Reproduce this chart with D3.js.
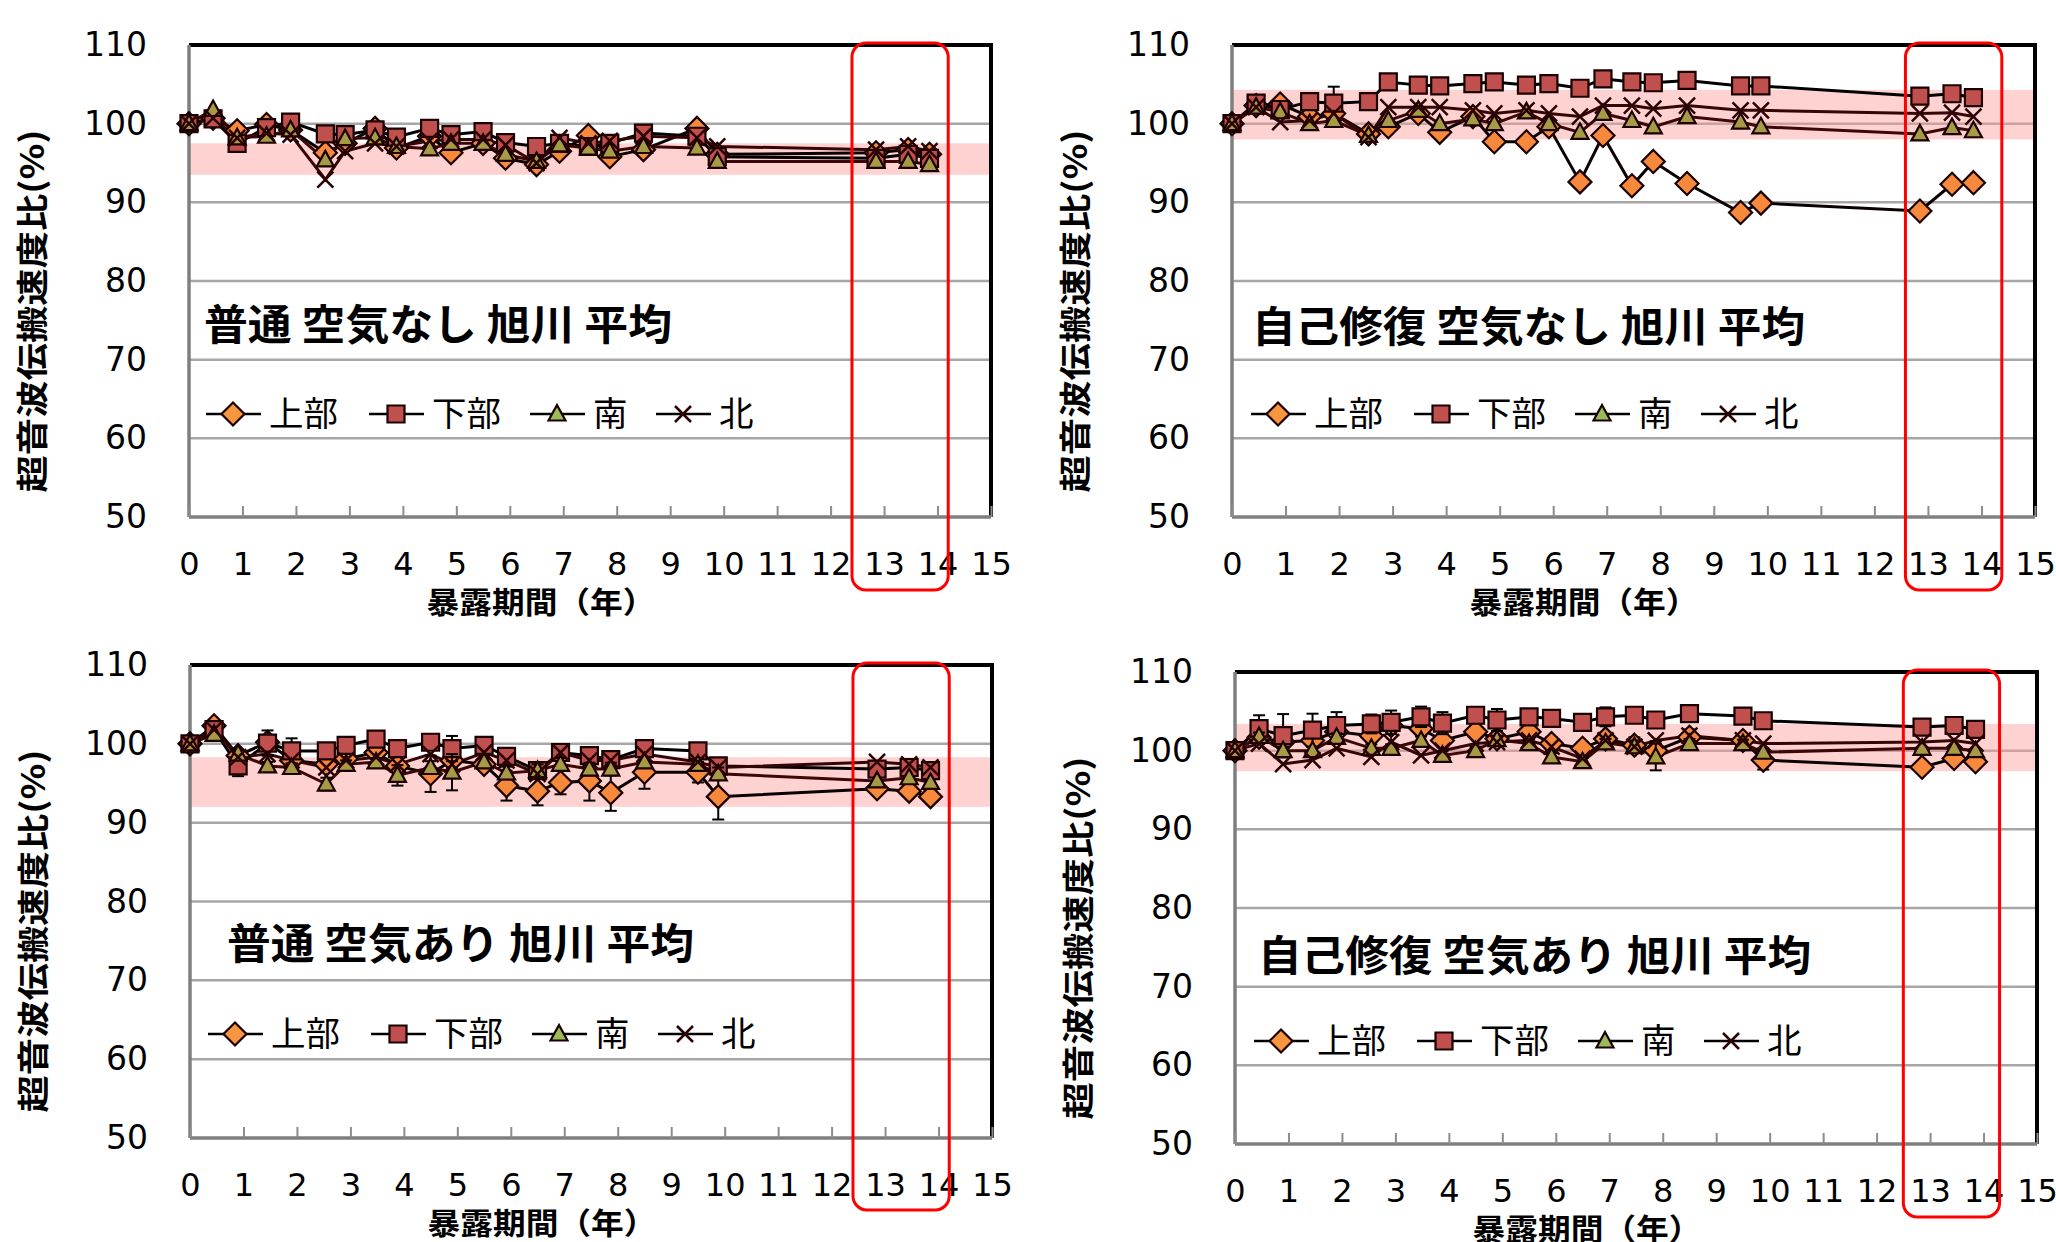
<!DOCTYPE html>
<html>
<head>
<meta charset="utf-8">
<script src="https://cdn.jsdelivr.net/npm/d3@7"></script>
<style>
  html, body { margin: 0; padding: 0; background: #fff; }
  svg { display: block; }
  text { font-family: "Noto Sans CJK JP", "DejaVu Sans", sans-serif; fill: #000; }
  .num text { font-family: "DejaVu Sans", sans-serif; font-size: 33px; }
  .num.xnum text { font-size: 32px; }
</style>
</head>
<body>
<div id="chart"></div>
<script>
// --- data ---------------------------------------------------------------
const years = [0, 0.45, 0.9, 1.45, 1.9, 2.55, 2.92, 3.48, 3.88, 4.5, 4.9, 5.5,
  5.92, 6.5, 6.93, 7.47, 7.87, 8.5, 9.5, 9.88, 12.85, 13.45, 13.85];

const seriesNames = ['上部', '下部', '南', '北'];
const xTicks = [0, 1, 2, 3, 4, 5, 6, 7, 8, 9, 10, 11, 12, 13, 14, 15];
const yTicks = [50, 60, 70, 80, 90, 100, 110];

const panelTitles = ['普通 空気なし 旭川 平均', '自己修復 空気なし 旭川 平均',
  '普通 空気あり 旭川 平均', '自己修復 空気あり 旭川 平均'];
const xTitle = '暴露期間（年）';
const yTitle = '超音波伝搬速度比(%)';

// pink band (range of latest values)
const bandLow = [93.5, 98.0, 92.0, 97.4];
const bandHigh = [97.5, 104.3, 98.3, 103.4];
// red highlight box, in years
const boxStart = [12.4, 12.58, 12.4, 12.5];
const boxEnd = [14.2, 14.38, 14.2, 14.3];

// panel 1: 普通 空気なし
const p1Top = [100, 100.7, 99.1, 99.9, 99.2, 96.3, 97.5, 99.4, 96.9, 98.4, 96.3, 97.5, 95.6, 94.8, 96.5, 98.5, 95.8, 96.7, 99.4, 96.1, 96.3, 96.7, 96.1];
const p1Bottom = [100, 100.6, 97.5, 99.5, 100.2, 98.7, 98.6, 99.2, 98.3, 99.4, 98.6, 99.0, 97.6, 97.1, 97.5, 97.1, 97.5, 98.8, 98.4, 95.8, 95.6, 96.1, 95.6];
const p1South = [100, 101.8, 98.2, 98.4, 99.2, 95.4, 98.1, 98.2, 97.1, 96.8, 97.5, 97.5, 96.1, 95.2, 97.3, 96.9, 96.5, 97.1, 96.9, 95.2, 95.2, 95.2, 94.8];
const p1North = [100, 100.7, 98.2, 98.8, 98.6, 92.9, 96.5, 97.5, 97.1, 97.8, 98.0, 98.0, 97.3, 95.0, 98.2, 97.5, 97.8, 98.4, 98.2, 97.1, 96.7, 97.1, 96.5];

// panel 2: 自己修復 空気なし
const p2Top = [100, 102.3, 102.5, 100.9, 101.3, 98.7, 99.6, 101.3, 98.9, 100.9, 97.7, 97.7, 99.6, 92.6, 98.5, 92.1, 95.2, 92.4, 88.7, 89.9, 88.9, 92.3, 92.5];
const p2Bottom = [100, 102.6, 101.8, 102.8, 102.6, 102.8, 105.3, 104.9, 104.8, 105.1, 105.3, 104.9, 105.1, 104.5, 105.7, 105.3, 105.2, 105.5, 104.8, 104.8, 103.5, 103.8, 103.3];
const p2South = [100, 102.1, 101.5, 100.0, 100.4, 98.5, 100.4, 101.7, 100.0, 100.6, 100.0, 101.5, 100.0, 98.9, 101.3, 100.4, 99.6, 100.9, 100.2, 99.6, 98.7, 99.5, 99.1];
const p2North = [100, 102.1, 100.2, 100.4, 101.3, 98.3, 102.1, 102.1, 102.1, 101.7, 101.3, 101.7, 101.3, 100.9, 102.3, 102.3, 101.9, 102.3, 101.7, 101.7, 101.3, 101.4, 100.9];

// panel 3: 普通 空気あり
const p3Top = [100, 102.3, 98.5, 100.2, 97.9, 97.4, 98.1, 98.9, 97.2, 96.2, 97.9, 97.4, 94.7, 94.0, 95.1, 95.3, 93.8, 96.4, 96.4, 93.3, 94.3, 94.0, 93.3];
const p3Bottom = [100, 101.8, 97.2, 100.1, 99.1, 99.1, 99.8, 100.6, 99.4, 100.2, 99.4, 99.8, 98.4, 96.6, 98.9, 98.5, 98.0, 99.4, 99.1, 97.2, 96.8, 97.0, 96.6];
const p3South = [100, 101.2, 98.7, 97.2, 97.0, 94.9, 97.4, 97.7, 96.0, 97.0, 96.4, 97.7, 96.3, 96.6, 97.4, 96.8, 96.8, 97.7, 97.4, 96.2, 95.3, 95.7, 95.1];
const p3North = [100, 101.8, 98.3, 98.7, 97.9, 97.0, 97.9, 98.3, 97.4, 98.7, 97.4, 98.9, 97.9, 96.2, 98.9, 97.9, 97.9, 98.7, 97.7, 97.0, 97.7, 97.4, 97.0];

// panel 4: 自己修復 空気あり
const p4Top = [100, 101.7, 101.1, 101.3, 102.4, 101.9, 103.2, 102.8, 101.3, 102.4, 101.5, 102.4, 100.9, 100.3, 101.5, 100.7, 100.0, 101.7, 101.3, 98.8, 97.9, 99.0, 98.6];
const p4Bottom = [100, 102.8, 101.9, 102.6, 103.2, 103.4, 103.6, 104.3, 103.5, 104.5, 103.9, 104.3, 104.1, 103.6, 104.3, 104.5, 103.9, 104.7, 104.4, 103.8, 103.0, 103.2, 102.7];
const p4South = [100, 101.8, 100.0, 100.0, 101.7, 100.3, 100.3, 101.3, 99.4, 100.0, 101.4, 100.9, 99.2, 98.6, 101.0, 100.5, 99.2, 100.9, 100.9, 99.8, 100.3, 100.3, 100.0];
const p4North = [100, 100.9, 98.3, 98.8, 100.3, 99.2, 101.1, 99.4, 100.0, 100.9, 101.1, 101.3, 100.5, 99.0, 101.3, 100.5, 101.3, 101.9, 101.3, 100.9, 101.1, 101.3, 100.9];

// error bars (+/-), 0 = none visible
const p2BottomErr = [0, 0, 0, 0, 2.1, 0, 0, 0, 0, 0, 0, 0, 0, 0, 0, 0, 0, 0, 0, 0, 0, 0, 0];
const p3TopErr = [0, 0, 0.5, 0.8, 0.5, 0.6, 0.5, 0.5, 0.8, 2.3, 1.5, 0.8, 1.9, 1.8, 1.5, 2.5, 2.3, 2.1, 1.3, 2.9, 0, 0, 0];
const p3BottomErr = [0, 0, 1.3, 1.6, 1.6, 0.5, 0.5, 0.5, 0.5, 0.5, 1.6, 0.5, 0.6, 0.8, 0.8, 0.5, 0.5, 1.0, 0.6, 0.5, 0, 0, 0];
const p3SouthErr = [0, 0, 0.5, 0.5, 0.5, 0.8, 0.5, 0.5, 1.3, 0.8, 2.3, 0.5, 0.8, 0.8, 0.8, 0.8, 0.8, 0.5, 0.8, 0.8, 0, 0, 0];
const p4TopErr = [0, 0.8, 0.8, 0.8, 0.8, 0.8, 0.8, 0.8, 0.8, 0.8, 0.8, 0.8, 0.8, 0.8, 0.8, 1.0, 1.2, 1.0, 0.8, 1.2, 0, 0, 0];
const p4BottomErr = [0, 1.7, 2.75, 2.1, 1.7, 1.2, 1.5, 1.3, 1.4, 1.0, 1.4, 1.0, 0.85, 1.0, 1.2, 0.5, 0.5, 0.5, 0.5, 0.5, 0, 0, 0];
const p4SouthErr = [0, 0.5, 0.5, 0.5, 0.5, 0.5, 0.5, 0.5, 0.5, 0.5, 0.5, 0.5, 0.5, 0.5, 0.5, 0.8, 1.7, 0.6, 0.5, 0.5, 0, 0, 0];
const noErr = years.map(() => 0);

// --- styles -------------------------------------------------------------
const markerTypes = ['diamond', 'square', 'triangle', 'cross'];
const markerFills = ['#f7893c', '#c0504d', '#a69a45', 'none'];
const legendFills = ['#f7963f', '#c0504d', '#9bbb59', 'none'];
const lineColors = ['#0a0000', '#000000', '#3d0707', '#360606'];

// layout of the four plot areas
const panels = [
  {left: 189, top: 45, width: 802, height: 472, titleDx: 15, titleDy: 295, legendDx: 17,
    series: [p1Top, p1Bottom, p1South, p1North], errs: [noErr, noErr, noErr, noErr]},
  {left: 1232, top: 45, width: 803, height: 472, titleDx: 20, titleDy: 297, legendDx: 19,
    series: [p2Top, p2Bottom, p2South, p2North], errs: [noErr, p2BottomErr, noErr, noErr]},
  {left: 190, top: 665, width: 802, height: 473, titleDx: 37, titleDy: 294, legendDx: 18,
    series: [p3Top, p3Bottom, p3South, p3North], errs: [p3TopErr, p3BottomErr, p3SouthErr, noErr]},
  {left: 1235, top: 672, width: 802, height: 472, titleDx: 23, titleDy: 299, legendDx: 19,
    series: [p4Top, p4Bottom, p4South, p4North], errs: [p4TopErr, p4BottomErr, p4SouthErr, noErr]}
];
const titleLengths = [468, 553, 467, 553];
const legendOffsets = [0, 163, 324, 450];

const svg = d3.select('#chart').append('svg')
  .attr('width', 2056)
  .attr('height', 1242);

function markerPath(type) {
  if (type === 'diamond') return 'M0,-11.5L11.5,0L0,11.5L-11.5,0Z';
  if (type === 'square') return 'M-8.5,-8.5H8.5V8.5H-8.5Z';
  if (type === 'triangle') return 'M0,-9L8.5,6.5H-8.5Z';
  return 'M-8,-8L8,8M-8,8L8,-8';
}

function drawMarker(sel, k, fills) {
  sel.append('path')
    .attr('d', markerPath(markerTypes[k]))
    .attr('fill', fills[k])
    .attr('stroke', k === 3 ? '#2a0000' : '#1a0000')
    .attr('stroke-width', k === 3 ? 2.5 : 2.2);
}

panels.forEach((p, i) => {
  const g = svg.append('g').attr('transform', `translate(${p.left},${p.top})`);
  const x = d3.scaleLinear().domain([0, 15]).range([0, p.width]);
  const y = d3.scaleLinear().domain([50, 110]).range([p.height, 0]);

  // GRID
  g.append('g').selectAll('line')
    .data(yTicks.filter(v => v > 50 && v < 110))
    .join('line')
    .attr('x1', 0).attr('x2', p.width)
    .attr('y1', d => y(d)).attr('y2', d => y(d))
    .attr('stroke', '#a6a6a6').attr('stroke-width', 2.5);

  // BAND
  g.append('rect')
    .attr('x', 0).attr('width', p.width)
    .attr('y', y(bandHigh[i]))
    .attr('height', y(bandLow[i]) - y(bandHigh[i]))
    .attr('fill', '#ff9c9c').attr('opacity', 0.45);

  // FRAME
  g.append('line').attr('x1', 0).attr('x2', p.width).attr('y1', 0).attr('y2', 0)
    .attr('stroke', '#000').attr('stroke-width', 4);
  g.append('line').attr('x1', p.width).attr('x2', p.width).attr('y1', -2).attr('y2', p.height)
    .attr('stroke', '#000').attr('stroke-width', 4);
  g.append('line').attr('x1', 0).attr('x2', 0).attr('y1', 0).attr('y2', p.height)
    .attr('stroke', '#7f7f7f').attr('stroke-width', 3.5);
  g.append('line').attr('x1', 0).attr('x2', p.width).attr('y1', p.height).attr('y2', p.height)
    .attr('stroke', '#7f7f7f').attr('stroke-width', 3.5);

  // AXES
  const yAxis = d3.axisLeft(y).tickValues(yTicks).tickSize(0).tickPadding(42);
  g.append('g').attr('class', 'num').call(yAxis)
    .call(a => a.select('.domain').remove());

  const xAxis = d3.axisBottom(x).tickValues(xTicks)
    .tickSizeInner(-11).tickSizeOuter(0).tickPadding(35);
  g.append('g').attr('class', 'num xnum')
    .attr('transform', `translate(0,${p.height})`)
    .call(xAxis)
    .call(a => a.select('.domain').remove())
    .call(a => a.selectAll('.tick line').attr('stroke', '#8c8c8c').attr('stroke-width', 2));

  // AXIS TITLES
  g.append('text')
    .attr('transform', `translate(-145,${266}) rotate(-90)`)
    .attr('text-anchor', 'middle')
    .attr('font-size', 32).attr('font-weight', 'bold')
    .attr('textLength', 363).attr('lengthAdjust', 'spacingAndGlyphs')
    .text(yTitle);

  g.append('text')
    .attr('x', 352).attr('y', p.height + 96)
    .attr('text-anchor', 'middle')
    .attr('font-size', 30).attr('font-weight', 'bold')
    .attr('textLength', 229).attr('lengthAdjust', 'spacingAndGlyphs')
    .text(xTitle);

  // PANEL TITLE
  g.append('text')
    .attr('x', p.titleDx).attr('y', p.titleDy)
    .attr('font-size', 42).attr('font-weight', 'bold')
    .attr('textLength', titleLengths[i]).attr('lengthAdjust', 'spacingAndGlyphs')
    .text(panelTitles[i]);

  // LEGEND
  const legend = g.append('g')
    .attr('transform', `translate(${p.legendDx},369)`)
    .selectAll('g').data(seriesNames)
    .join('g')
    .attr('transform', (d, k) => `translate(${legendOffsets[k]},0)`);
  legend.append('line')
    .attr('x1', 0).attr('x2', 55)
    .attr('stroke', '#000').attr('stroke-width', 2.5);
  legend.each(function (d, k) {
    drawMarker(d3.select(this).append('g').attr('transform', 'translate(27,0)'), k, legendFills);
  });
  legend.append('text')
    .attr('x', 63).attr('y', 12)
    .attr('font-size', 34)
    .attr('textLength', d => d.length * 34.5).attr('lengthAdjust', 'spacingAndGlyphs')
    .text(d => d);

  // SERIES
  const line = d3.line().x(d => x(d[0])).y(d => y(d[1]));
  p.series.forEach((vals, k) => {
    g.append('path')
      .datum(years.map((t, j) => [t, vals[j]]))
      .attr('d', line)
      .attr('fill', 'none')
      .attr('stroke', lineColors[k])
      .attr('stroke-width', 3);
  });

  p.series.forEach((vals, k) => {
    const pts = years.map((t, j) => ({t: t, v: vals[j], e: p.errs[k][j]}));
    const eb = g.append('g').selectAll('g').data(pts.filter(d => d.e > 0)).join('g');
    eb.append('line')
      .attr('x1', d => x(d.t)).attr('x2', d => x(d.t))
      .attr('y1', d => y(d.v - d.e)).attr('y2', d => y(d.v + d.e))
      .attr('stroke', '#000').attr('stroke-width', 2);
    [-1, 1].forEach(s => {
      eb.append('line')
        .attr('x1', d => x(d.t) - 6).attr('x2', d => x(d.t) + 6)
        .attr('y1', d => y(d.v + s * d.e)).attr('y2', d => y(d.v + s * d.e))
        .attr('stroke', '#000').attr('stroke-width', 2);
    });

    g.append('g').selectAll('g').data(pts).join('g')
      .attr('transform', d => `translate(${x(d.t)},${y(d.v)})`)
      .each(function () { drawMarker(d3.select(this), k, markerFills); });
  });

  // RED HIGHLIGHT
  g.append('rect')
    .attr('x', x(boxStart[i]))
    .attr('width', x(boxEnd[i]) - x(boxStart[i]))
    .attr('y', -2).attr('height', 547)
    .attr('rx', 14)
    .attr('fill', 'none')
    .attr('stroke', '#ff0000').attr('stroke-width', 3);
});
</script>
</body>
</html>
